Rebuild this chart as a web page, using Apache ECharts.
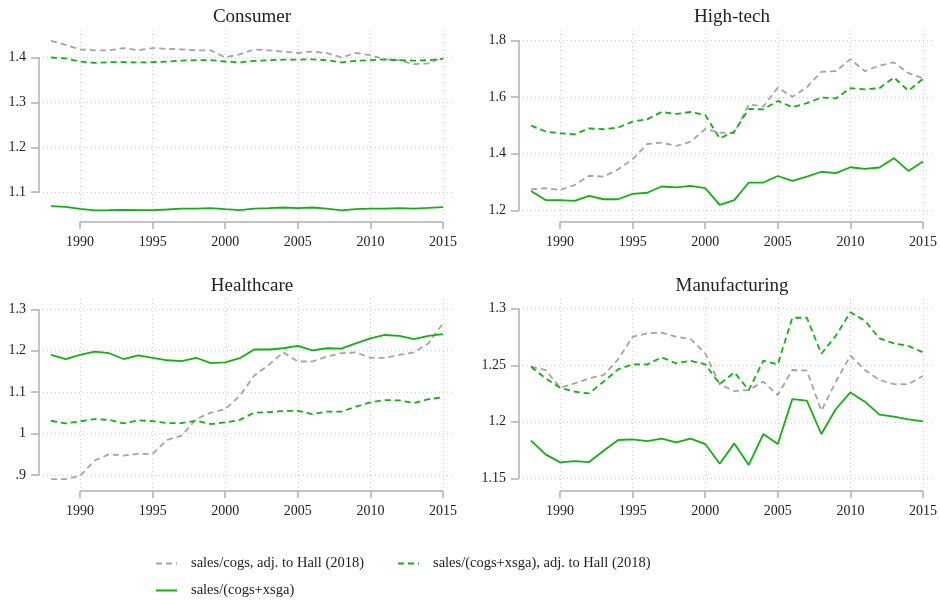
<!DOCTYPE html>
<html><head><meta charset="utf-8">
<script src="https://cdn.jsdelivr.net/npm/echarts@6/dist/echarts.min.js"></script>
<style>html,body{margin:0;padding:0;background:#fff}#c{width:940px;height:603px}</style>
</head><body><div id="c"></div>
<script>
// ---------- data ----------
const years = [1988,1989,1990,1991,1992,1993,1994,1995,1996,1997,1998,1999,2000,2001,2002,2003,2004,2005,2006,2007,2008,2009,2010,2011,2012,2013,2014,2015];
const xTicks = [1990,1995,2000,2005,2010,2015];
const panelTitles = ['Consumer','High-tech','Healthcare','Manufacturing'];
const seriesNames = ['sales/cogs, adj. to Hall (2018)','sales/(cogs+xsga), adj. to Hall (2018)','sales/(cogs+xsga)'];

const consumerCogs  = [1.437,1.428,1.418,1.416,1.416,1.421,1.416,1.421,1.419,1.418,1.416,1.416,1.400,1.407,1.418,1.416,1.413,1.410,1.413,1.410,1.400,1.410,1.405,1.396,1.394,1.385,1.387,1.400];
const consumerAdj   = [1.400,1.398,1.391,1.388,1.3895,1.3895,1.389,1.3895,1.391,1.393,1.394,1.394,1.391,1.389,1.3925,1.394,1.395,1.395,1.396,1.394,1.389,1.3925,1.394,1.3955,1.394,1.393,1.394,1.397];
const consumerSolid = [1.0688,1.0674,1.063,1.0594,1.060,1.0607,1.060,1.060,1.0614,1.0636,1.0636,1.0644,1.0621,1.060,1.0636,1.0644,1.0659,1.0644,1.0659,1.0636,1.0594,1.0621,1.0636,1.0636,1.0644,1.0636,1.065,1.0666];

const hightechCogs  = [1.274,1.278,1.272,1.289,1.322,1.319,1.345,1.380,1.434,1.439,1.427,1.442,1.487,1.474,1.472,1.574,1.566,1.633,1.601,1.634,1.689,1.691,1.733,1.691,1.711,1.722,1.684,1.666];
const hightechAdj   = [1.499,1.478,1.472,1.468,1.489,1.486,1.492,1.513,1.521,1.547,1.540,1.547,1.536,1.454,1.478,1.558,1.556,1.586,1.564,1.578,1.598,1.595,1.631,1.627,1.631,1.669,1.622,1.664];
const hightechSolid = [1.268,1.236,1.236,1.233,1.251,1.239,1.239,1.258,1.262,1.284,1.281,1.286,1.278,1.219,1.236,1.298,1.298,1.321,1.304,1.319,1.336,1.331,1.352,1.346,1.351,1.384,1.339,1.372];

const healthCogs  = [0.890,0.890,0.898,0.935,0.950,0.947,0.951,0.951,0.985,0.995,1.035,1.0505,1.059,1.091,1.140,1.166,1.196,1.174,1.174,1.186,1.194,1.196,1.183,1.183,1.190,1.196,1.218,1.266];
const healthAdj   = [1.031,1.0245,1.0296,1.035,1.033,1.0245,1.032,1.030,1.0254,1.0254,1.031,1.023,1.027,1.033,1.0505,1.052,1.0545,1.055,1.047,1.053,1.053,1.065,1.0755,1.081,1.080,1.074,1.083,1.0875];
const healthSolid = [1.190,1.180,1.190,1.198,1.194,1.180,1.189,1.183,1.177,1.175,1.183,1.170,1.172,1.182,1.203,1.203,1.206,1.2115,1.201,1.206,1.205,1.218,1.230,1.238,1.236,1.228,1.236,1.240];

const manuCogs  = [1.2487,1.2458,1.2302,1.234,1.2384,1.2413,1.2552,1.2752,1.2782,1.2788,1.2752,1.2732,1.2605,1.2331,1.2272,1.2281,1.2355,1.2237,1.2458,1.2452,1.2098,1.2355,1.2584,1.2458,1.2369,1.2334,1.2331,1.2405];
const manuAdj   = [1.2487,1.2384,1.2302,1.2266,1.2251,1.2355,1.2464,1.2508,1.2508,1.257,1.2517,1.254,1.2508,1.2334,1.2437,1.2281,1.254,1.2508,1.292,1.292,1.2602,1.2761,1.2968,1.2894,1.2738,1.2693,1.267,1.2614];
const manuSolid = [1.1833,1.1712,1.1641,1.1653,1.1644,1.1744,1.1839,1.1845,1.183,1.1851,1.1818,1.1851,1.1803,1.1629,1.1809,1.1618,1.1892,1.1803,1.2201,1.2187,1.1892,1.2113,1.226,1.2178,1.2063,1.2045,1.2021,1.2004];

const consumerTicks = [1.1,1.2,1.3,1.4];
const consumerTickLabels = ['1.1','1.2','1.3','1.4'];
const hightechTicks = [1.2,1.4,1.6,1.8];
const hightechTickLabels = ['1.2','1.4','1.6','1.8'];
const healthTicks = [0.9,1.0,1.1,1.2,1.3];
const healthTickLabels = ['.9','1','1.1','1.2','1.3'];
const manuTicks = [1.15,1.2,1.25,1.3];
const manuTickLabels = ['1.15','1.2','1.25','1.3'];
const xTickLabels = ['1990','1995','2000','2005','2010','2015'];

// ---------- layout / style ----------
const FONT = '"Liberation Serif","DejaVu Serif",serif';
const GRAY = '#a4a4a4';
const GREEN = '#13b013';
const AXIS = '#b0b0b0';
const TXT = '#222';
const X_MIN = 1987.17, X_MAX = 2015.83;

const panels = [
  {title: panelTitles[0], data:[consumerCogs,consumerAdj,consumerSolid], ticks:consumerTicks, labels:consumerTickLabels, min:1.0336, max:1.4612, left:39, top:30},
  {title: panelTitles[1], data:[hightechCogs,hightechAdj,hightechSolid], ticks:hightechTicks, labels:hightechTickLabels, min:1.1587, max:1.8364, left:519, top:30},
  {title: panelTitles[2], data:[healthCogs,healthAdj,healthSolid], ticks:healthTicks, labels:healthTickLabels, min:0.8614, max:1.3249, left:39, top:299},
  {title: panelTitles[3], data:[manuCogs,manuAdj,manuSolid], ticks:manuTicks, labels:manuTickLabels, min:1.1388, max:1.3086, left:519, top:299}
];
const W = 416, H = 192;

const styles = [
  {color: GRAY, type: [6,4]},
  {color: GREEN, type: [6,4]},
  {color: GREEN, type: 'solid'}
];

const grid = [], xAxis = [], yAxis = [], series = [], title = [];
panels.forEach((p, i) => {
  grid.push({left: p.left, top: p.top, width: W, height: H});
  title.push({text: p.title, left: p.left + W/2, top: p.top - 27, textAlign: 'center',
    textStyle: {fontFamily: FONT, fontSize: 19, fontWeight: 'normal', color: TXT}});
  const splitStyle = {show: true, lineStyle: {color: '#cfcfcf', width: 1, type: [1,3]}};
  xAxis.push({type: 'value', gridIndex: i, min: X_MIN, max: X_MAX,
    axisLine: {show: false},
    axisTick: {show: true, length: 7, customValues: xTicks, lineStyle: {color: AXIS, width: 1.5}},
    axisLabel: {customValues: xTicks, margin: 13, fontFamily: FONT, fontSize: 14, color: TXT,
      formatter: v => xTickLabels[xTicks.indexOf(Math.round(v))] || ''},
    splitLine: splitStyle});
  yAxis.push({type: 'value', gridIndex: i, min: p.min, max: p.max,
    axisLine: {show: false},
    axisTick: {show: true, length: 8, customValues: p.ticks, lineStyle: {color: AXIS, width: 1.5}},
    axisLabel: {customValues: p.ticks, margin: 13, fontFamily: FONT, fontSize: 14, color: TXT,
      formatter: v => { let k = p.ticks.findIndex(t => Math.abs(t - v) < 1e-6); return k >= 0 ? p.labels[k] : ''; }},
    splitLine: splitStyle});
  p.data.forEach((arr, j) => {
    series.push({name: seriesNames[j], type: 'line', xAxisIndex: i, yAxisIndex: i,
      data: years.map((y, k) => [y, arr[k]]), symbol: 'none', smooth: false, z: 3 + j,
      lineStyle: {color: styles[j].color, width: 1.8, type: styles[j].type},
      itemStyle: {color: styles[j].color}, emphasis: {disabled: true}, silent: true});
  });
  // axis lines spanning only the tick range (Stata style)
  series.push({type: 'line', xAxisIndex: i, yAxisIndex: i, symbol: 'none', clip: false, silent: true, z: 2,
    data: [[xTicks[0], p.min], [xTicks[xTicks.length-1], p.min]],
    lineStyle: {color: AXIS, width: 1.5}});
  series.push({type: 'line', xAxisIndex: i, yAxisIndex: i, symbol: 'none', clip: false, silent: true, z: 2,
    data: [[X_MIN, p.ticks[0]], [X_MIN, p.ticks[p.ticks.length-1]]],
    lineStyle: {color: AXIS, width: 1.5}});
});

const legendBase = {orient: 'horizontal', padding: 0, itemWidth: 21, itemHeight: 14, selectedMode: false,
  itemStyle: {opacity: 0, borderWidth: 0},
  textStyle: {fontFamily: FONT, fontSize: 14.5, color: TXT, padding: [0,0,0,9]}};
const legend = [
  Object.assign({}, legendBase, {data: [seriesNames[0]], left: 155, top: 556}),
  Object.assign({}, legendBase, {data: [seriesNames[1]], left: 397, top: 556}),
  Object.assign({}, legendBase, {data: [seriesNames[2]], left: 155, top: 583})
];

const chart = echarts.init(document.getElementById('c'), null, {renderer: 'canvas'});
chart.setOption({backgroundColor: '#fff', animation: false, title, grid, xAxis, yAxis, series, legend});
</script>
</body></html>
